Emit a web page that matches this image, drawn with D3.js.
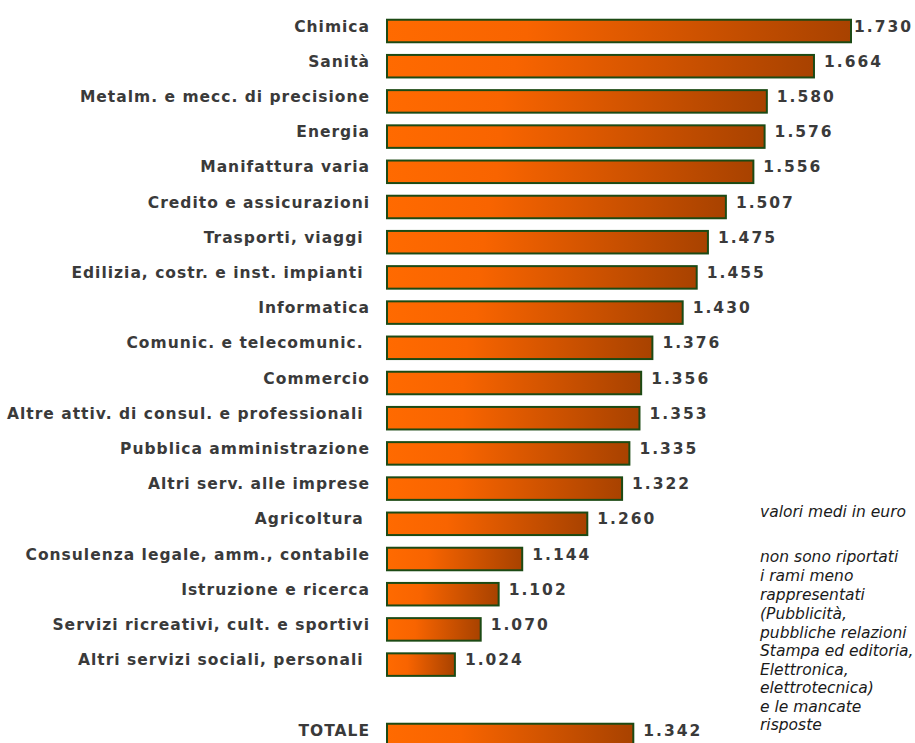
<!DOCTYPE html>
<html>
<head>
<meta charset="utf-8">
<script src="https://cdn.jsdelivr.net/npm/d3@7"></script>
<style>
  body { margin: 0; background: #fff; }
  svg { font-family: "DejaVu Sans", Verdana, sans-serif; }
  .label { font-size: 15.5px; font-weight: bold; fill: #3a3a3a; letter-spacing: 1px; white-space: pre; }
  .value { font-size: 15.5px; font-weight: bold; fill: #3a3a3a; letter-spacing: 2px; }
  .note { font-size: 15.5px; font-style: italic; fill: #1a1a1a; }
</style>
</head>
<body>
<div id="chart"></div>
<script>
// Data
var sectors = [
  "Chimica", "Sanità", "Metalm. e mecc. di precisione", "Energia",
  "Manifattura varia", "Credito e assicurazioni", "Trasporti, viaggi ",
  "Edilizia, costr. e inst. impianti ", "Informatica", "Comunic. e telecomunic. ",
  "Commercio", "Altre attiv. di consul. e professionali ", "Pubblica amministrazione",
  "Altri serv. alle imprese", "Agricoltura ", "Consulenza legale, amm., contabile",
  "Istruzione e ricerca", "Servizi ricreativi, cult. e sportivi",
  "Altri servizi sociali, personali ", "", "TOTALE"
];
var values = [1730, 1664, 1580, 1576, 1556, 1507, 1475, 1455, 1430, 1376,
  1356, 1353, 1335, 1322, 1260, 1144, 1102, 1070, 1024, null, 1342];
var valueLabels = ["1.730", "1.664", "1.580", "1.576", "1.556", "1.507", "1.475",
  "1.455", "1.430", "1.376", "1.356", "1.353", "1.335", "1.322", "1.260", "1.144",
  "1.102", "1.070", "1.024", "", "1.342"];
var notes = ["non sono riportati", "i rami meno", "rappresentati", "(Pubblicità,",
  "pubbliche relazioni", "Stampa ed editoria,", "Elettronica,", "elettrotecnica)",
  "e le mancate", "risposte"];

var svgWidth = 915;
var svgHeight = 743;

var svg = d3.select("#chart")
  .append("svg")
  .attr("width", svgWidth)
  .attr("height", svgHeight);

var defs = svg.append("defs");
var grad = defs.append("linearGradient")
  .attr("id", "barGrad")
  .attr("x1", "0%").attr("x2", "100%")
  .attr("y1", "0%").attr("y2", "0%");
grad.append("stop").attr("offset", "0%").attr("stop-color", "#ff6a00");
grad.append("stop").attr("offset", "30%").attr("stop-color", "#f86400");
grad.append("stop").attr("offset", "100%").attr("stop-color", "#a84200");

var data = sectors.map((s, i) => ({ idx: i, name: s, value: values[i], label: valueLabels[i] }));

// scales
var x = d3.scaleLinear()
  .domain([903, 1730])
  .range([387, 851]);

var y = d3.scaleBand()
  .domain(d3.range(sectors.length))
  .range([13.4, 13.4 + 35.2 * sectors.length])
  .paddingInner(0.36)
  .paddingOuter(0.18);

var rows = svg.selectAll("g.row")
  .data(data)
  .enter()
  .append("g")
  .attr("class", "row");

rows.filter(d => d.value != null)
  .append("rect")
  .attr("x", x(903))
  .attr("y", d => y(d.idx))
  .attr("width", d => x(d.value) - x(903))
  .attr("height", y.bandwidth())
  .attr("fill", "url(#barGrad)")
  .attr("stroke", "#1c4a14")
  .attr("stroke-width", 2);

rows.append("text")
  .attr("class", "label")
  .attr("x", 370)
  .attr("y", d => y(d.idx) + y.bandwidth() / 2 - 1)
  .attr("dy", "0.1em")
  .attr("text-anchor", "end")
  .text(d => d.name);

rows.filter(d => d.value != null)
  .append("text")
  .attr("class", "value")
  .attr("x", d => x(d.value) + (d.idx === 0 ? 3 : 10))
  .attr("y", d => y(d.idx) + y.bandwidth() / 2 - 1)
  .attr("dy", "0.1em")
  .text(d => d.label);

// notes
svg.append("text")
  .attr("class", "note")
  .attr("x", 760)
  .attr("y", 517)
  .text("valori medi in euro");

var noteY = [562, 581, 600, 619, 637.5, 656, 674.5, 693, 711.5, 730];
svg.selectAll("text.notes")
  .data(notes)
  .enter()
  .append("text")
  .attr("class", "note")
  .attr("x", 760)
  .attr("y", (d, i) => noteY[i])
  .text(d => d);
</script>
</body>
</html>
